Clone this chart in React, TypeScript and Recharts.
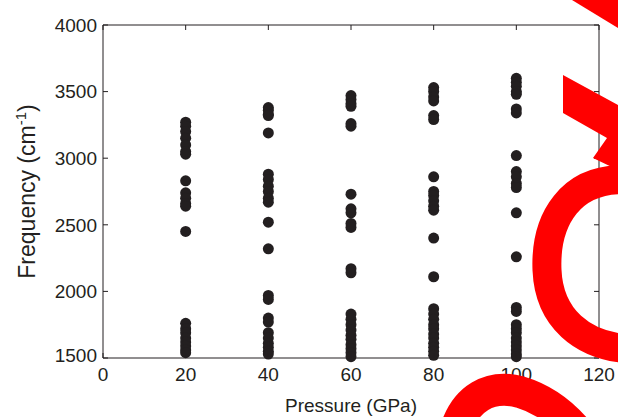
import { ScatterChart, Scatter, XAxis, YAxis, ReferenceArea, Label } from "recharts";

const INK = "#231f20";
const FONT = "'Liberation Sans', Arial, Helvetica, sans-serif";

// pressure (GPa) -> frequencies (cm^-1)
const f20 = [3270, 3240, 3200, 3150, 3100, 3050, 3030, 2830, 2740, 2700, 2660, 2640, 2450, 1760, 1720, 1690, 1650, 1620, 1590, 1560, 1540];
const f40 = [3380, 3360, 3330, 3320, 3190, 2880, 2840, 2790, 2750, 2700, 2670, 2520, 2320, 1970, 1940, 1800, 1770, 1690, 1650, 1610, 1580, 1550, 1530];
const f60 = [3470, 3440, 3410, 3390, 3260, 3240, 2730, 2620, 2590, 2510, 2480, 2170, 2140, 1830, 1790, 1750, 1710, 1670, 1640, 1600, 1570, 1540, 1510];
const f80 = [3530, 3500, 3460, 3430, 3320, 3290, 2860, 2750, 2720, 2680, 2640, 2610, 2400, 2110, 1870, 1830, 1790, 1750, 1720, 1680, 1650, 1610, 1580, 1550, 1520];
const f100 = [3600, 3570, 3540, 3500, 3480, 3370, 3340, 3020, 2900, 2860, 2810, 2780, 2590, 2260, 1880, 1850, 1750, 1720, 1690, 1650, 1620, 1590, 1560, 1530, 1510];

const xTicks = [0, 20, 40, 60, 80, 100, 120];
const yTicks = [1500, 2000, 2500, 3000, 3500, 4000];

const columns: [number, number[]][] = [
  [20, f20],
  [40, f40],
  [60, f60],
  [80, f80],
  [100, f100],
];
const points = columns.flatMap(([p, fs]) => fs.map((f) => ({ p, f })));

const PLOT_W = 496;
const PLOT_H = 333;
const TICK = 5;

function XTick(props: any) {
  const { x, y, payload } = props;
  return (
    <g>
      <line x1={x} y1={y} x2={x} y2={y - TICK} stroke={INK} />
      <line x1={x} y1={y - PLOT_H} x2={x} y2={y - PLOT_H + TICK} stroke={INK} />
      <text x={x} y={y + 23} textAnchor="middle" fontSize={19} fontFamily={FONT} fill={INK}>
        {payload.value}
      </text>
    </g>
  );
}

function YTick(props: any) {
  const { x, y, payload } = props;
  // matlab nudges the bottom label up a little so it clears the x "0"
  const lift = payload.value === 1500 ? -3 : 0;
  return (
    <g>
      <line x1={x} y1={y} x2={x + TICK} y2={y} stroke={INK} />
      <line x1={x + PLOT_W} y1={y} x2={x + PLOT_W - TICK} y2={y} stroke={INK} />
      <text x={x - 6} y={y + lift} dy="0.36em" textAnchor="end" fontSize={19} fontFamily={FONT} fill={INK}>
        {payload.value}
      </text>
    </g>
  );
}

function YLabel(props: any) {
  const vb = props.viewBox || {};
  const cx = 27;
  const cy = (vb.y ?? 25) + (vb.height ?? PLOT_H) / 2;
  return (
    <text
      x={cx}
      y={cy}
      transform={`rotate(-90, ${cx}, ${cy})`}
      textAnchor="middle"
      dy="0.36em"
      fontSize={23}
      fontFamily={FONT}
      fill={INK}
    >
      Frequency (cm
      <tspan fontSize={15} dy="-9">-1</tspan>
      <tspan dy="9">)</tspan>
    </text>
  );
}

const Dot = (props: any) => <circle cx={props.cx} cy={props.cy} r={5.5} fill={INK} />;

export default function App() {
  return (
    <div style={{ position: "absolute", left: 0, top: 0, width: 618, height: 417, background: "#fff" }}>
      <ScatterChart width={618} height={417} margin={{ top: 25, right: 19, bottom: 0, left: 0 }}>
        <XAxis
          type="number"
          dataKey="p"
          domain={[0, 120]}
          ticks={xTicks}
          height={59}
          axisLine={false}
          tickLine={false}
          tickSize={0}
          tickMargin={0}
          tick={<XTick />}
          interval={0}
        >
          <Label
            value="Pressure (GPa)"
            position="insideBottom"
            offset={5}
            style={{ fontSize: 19, fontFamily: FONT, fill: INK }}
          />
        </XAxis>
        <YAxis
          type="number"
          dataKey="f"
          domain={[1500, 4000]}
          ticks={yTicks}
          width={103}
          axisLine={false}
          tickLine={false}
          tickSize={0}
          tickMargin={0}
          tick={<YTick />}
          interval={0}
          label={<YLabel />}
        />
        <ReferenceArea x1={0} x2={120} y1={1500} y2={4000} fill="none" stroke={INK} strokeWidth={1} />
        <Scatter data={points} shape={<Dot />} isAnimationActive={false} />
      </ScatterChart>
      <svg
        width={618}
        height={417}
        style={{ position: "absolute", left: 0, top: 0, pointerEvents: "none" }}
      >
        <polygon points="572,0 618,0 618,28" fill="#ff0000" />
        <polygon points="563,75 618,105 618,170 593,158 607,138 563,113" fill="#ff0000" />
        <path d="M 630 180 C 570 176, 545 220, 547 270 C 549 318, 582 346, 630 349" stroke="#ff0000" strokeWidth={29} fill="none" />
        <path d="M 455 432 C 465 398, 490 384, 520 392 C 540 398, 560 410, 578 432" stroke="#ff0000" strokeWidth={32} fill="none" />
      </svg>
    </div>
  );
}
